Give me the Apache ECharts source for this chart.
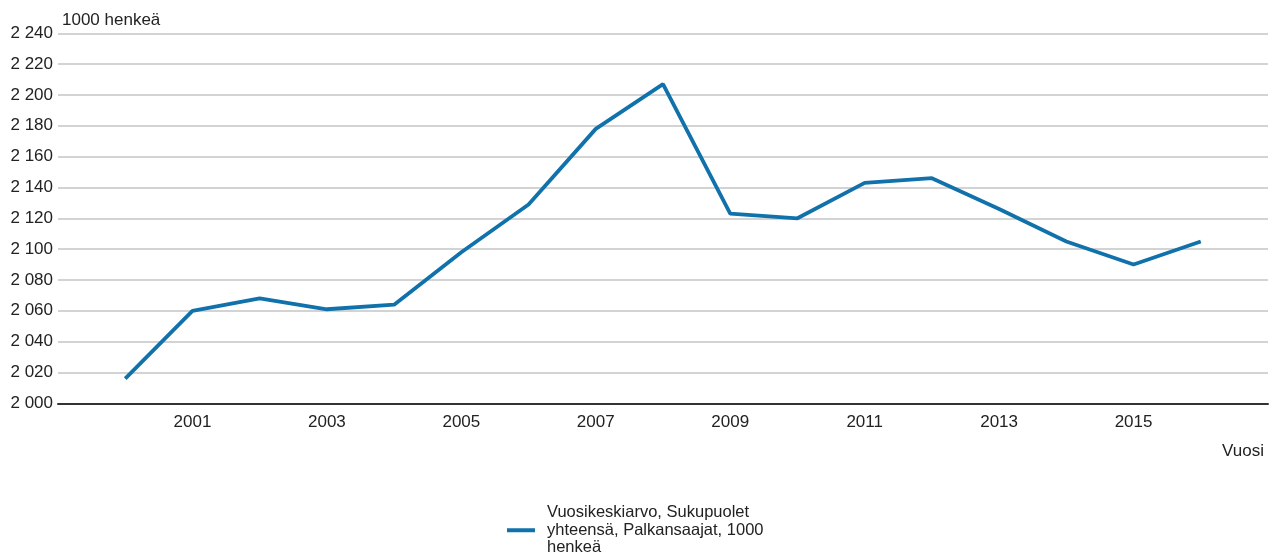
<!DOCTYPE html>
<html>
<head>
<meta charset="utf-8">
<script src="https://cdn.jsdelivr.net/npm/echarts@6/dist/echarts.min.js"></script>
<style>html,body{margin:0;padding:0;background:#fff}#c{width:1273px;height:552px}</style>
</head>
<body>
<div id="c"></div>
<script>
const years = [2000,2001,2002,2003,2004,2005,2006,2007,2008,2009,2010,2011,2012,2013,2014,2015,2016];
const values = [2016,2060,2068,2061,2064,2098,2129,2178,2207,2123,2120,2143,2146,2126,2105,2090,2105];
const seriesName = 'Vuosikeskiarvo, Sukupuolet yhteensä, Palkansaajat, 1000 henkeä';
const legendLines = ['Vuosikeskiarvo, Sukupuolet', 'yhteensä, Palkansaajat, 1000', 'henkeä'];
const yUnit = '1000 henkeä';
const xName = 'Vuosi';

const font = 'Liberation Sans, Arial, sans-serif';
const fs = 17;
const chart = echarts.init(document.getElementById('c'));
chart.setOption({
  animation: false,
  textStyle: { fontFamily: font },
  grid: { left: 58, right: 5, top: 33.3, bottom: 148.7, containLabel: false },
  legend: {
    left: 502, top: 499,
    icon: 'rect', itemWidth: 28, itemHeight: 4,
    textStyle: { fontFamily: font, fontSize: 16.5, color: '#222', lineHeight: 17.5, padding: [0,0,0,7] },
    formatter: () => legendLines.join('\n')
  },
  xAxis: {
    type: 'value', min: 1999, max: 2017, interval: 2,
    name: xName, nameLocation: 'end', nameGap: 0,
    nameTextStyle: { fontFamily: font, fontSize: fs, color: '#222', align: 'right', verticalAlign: 'top', padding: [40, 4, 0, 0] },
    axisLine: { lineStyle: { color: '#333', width: 2 } },
    axisTick: { show: false },
    splitLine: { show: false },
    axisLabel: { showMinLabel: false, showMaxLabel: false, fontSize: fs, color: '#222', margin: 11, formatter: v => String(v) }
  },
  yAxis: {
    type: 'value', min: 2000, max: 2240, interval: 20,
    name: yUnit, nameLocation: 'end', nameGap: 4,
    nameTextStyle: { fontFamily: font, fontSize: fs, color: '#222', align: 'left', padding: [0,0,0,4] },
    axisLine: { show: false },
    axisTick: { show: false },
    splitLine: { lineStyle: { color: '#c4c4c4', width: 1.5 } },
    axisLabel: { fontSize: fs, color: '#222', margin: 5,
      formatter: v => String(v).replace(/\B(?=(\d{3})+(?!\d))/g, ' ') }
  },
  series: [{
    name: seriesName,
    type: 'line',
    data: years.map((y, i) => [y, values[i]]),
    showSymbol: false, symbol: 'none',
    lineStyle: { color: '#1172ab', width: 3.8 },
    itemStyle: { color: '#1172ab' }
  }]
});
</script>
</body>
</html>
